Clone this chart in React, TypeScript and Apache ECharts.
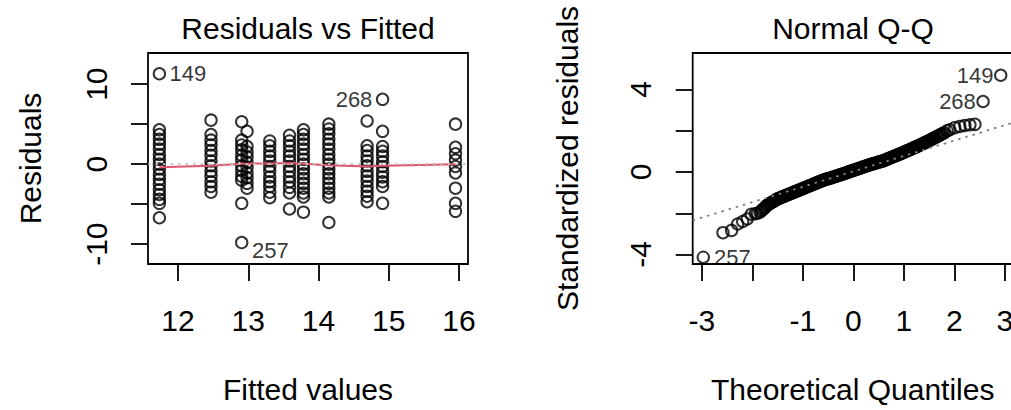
import React, { useEffect, useRef } from "react";
import * as echarts from "echarts";

const FONT = '"Liberation Sans", Arial, Helvetica, sans-serif';

// ---------- Residuals vs Fitted ----------
const fittedLevels = [11.735, 12.47, 12.907, 12.983, 13.306, 13.587, 13.786, 14.147, 14.692, 14.912, 15.95];
const residualsByLevel = [
  [4.3, 3.7, 3.1, 2.5, 1.9, 1.2, 0.6, 0.0, -0.6, -1.3, -1.9, -2.5, -3.2, -3.8, -4.4, -4.9, -6.7],
  [5.5, 3.7, 3.0, 2.4, 1.7, 1.1, 0.4, -0.2, -0.9, -1.5, -2.2, -2.8, -3.5],
  [5.3, 3.0, 2.4, 1.8, 1.1, 0.5, -0.2, -0.8, -1.5, -2.0, -4.9],
  [4.1, 2.2, 1.5, 0.9, 0.2, -0.4, -1.1, -1.7, -2.4, -3.0],
  [2.9, 2.3, 1.6, 1.0, 0.4, -0.3, -0.9, -1.6, -2.2, -2.8, -3.5, -4.2],
  [3.6, 2.9, 2.3, 1.6, 1.0, 0.4, -0.3, -0.9, -1.6, -2.2, -2.9, -3.6, -5.6],
  [4.3, 3.7, 3.1, 2.5, 1.9, 1.2, 0.6, 0.0, -0.6, -1.2, -1.8, -2.4, -3.0, -3.6, -4.1, -6.0],
  [5.0, 4.4, 3.8, 3.1, 2.5, 1.9, 1.2, 0.6, 0.0, -0.6, -1.2, -1.8, -2.4, -3.0, -3.6, -4.1, -7.3],
  [5.4, 2.3, 1.7, 1.0, 0.4, -0.2, -0.9, -1.5, -2.1, -2.8, -3.4, -4.0, -4.7],
  [4.1, 2.2, 1.6, 1.0, 0.3, -0.3, -1.0, -1.6, -2.2, -2.8, -4.9],
  [5.0, 2.1, 1.3, 0.5, -0.3, -1.1, -3.0, -4.9, -5.9],
];
const outlierIds = ["149", "257", "268"];
const outlierFitted = [11.735, 12.907, 14.912];
const outlierResid = [11.3, -9.8, 8.1];
const outlierSide = ["right", "right", "left"];
const outlierDy = [0, 8, 0];
const lowessResid = [-0.38, -0.2, 0.04, 0.06, 0.08, 0.13, 0.04, -0.13, -0.3, -0.2, 0.0];

const leftX = { min: 11.573, max: 16.128 };
const leftY = { min: -12.48, max: 13.89 };
const leftXTicks = [12, 13, 14, 15, 16];
const leftYTicks = [-10, -5, 0, 5, 10];
const leftYLabels = [-10, 0, 10];

// ---------- Normal Q-Q ----------
const qqTailLowQ = [-2.58, -2.41, -2.29, -2.19, -2.1, -2.02, -1.94, -1.9];
const qqTailLowS = [-2.94, -2.83, -2.52, -2.4, -2.28, -2.05, -2.02, -2.0];
const qqBandQ = [
  -1.85, -1.825, -1.8, -1.775, -1.75, -1.725, -1.7, -1.675, -1.65, -1.625,
  -1.6, -1.575, -1.55, -1.525, -1.5, -1.475, -1.45, -1.425, -1.4, -1.375,
  -1.35, -1.325, -1.3, -1.275, -1.25, -1.225, -1.2, -1.175, -1.15, -1.125,
  -1.1, -1.075, -1.05, -1.025, -1.0, -0.975, -0.95, -0.925, -0.9, -0.875,
  -0.85, -0.825, -0.8, -0.775, -0.75, -0.725, -0.7, -0.675, -0.65, -0.625,
  -0.6, -0.575, -0.55, -0.525, -0.5, -0.475, -0.45, -0.425, -0.4, -0.375,
  -0.35, -0.325, -0.3, -0.275, -0.25, -0.225, -0.2, -0.175, -0.15, -0.125,
  -0.1, -0.075, -0.05, -0.025, 0.0, 0.025, 0.05, 0.075, 0.1, 0.125,
  0.15, 0.175, 0.2, 0.225, 0.25, 0.275, 0.3, 0.325, 0.35, 0.375,
  0.4, 0.425, 0.45, 0.475, 0.5, 0.525, 0.55, 0.575, 0.6, 0.625,
  0.65, 0.675, 0.7, 0.725, 0.75, 0.775, 0.8, 0.825, 0.85, 0.875,
  0.9, 0.925, 0.95, 0.975, 1.0, 1.025, 1.05, 1.075, 1.1, 1.125,
  1.15, 1.175, 1.2, 1.225, 1.25, 1.275, 1.3, 1.325, 1.35, 1.375,
  1.4, 1.425, 1.45, 1.475, 1.5, 1.525, 1.55, 1.575, 1.6, 1.625,
  1.65, 1.675, 1.7, 1.725, 1.75, 1.775, 1.8,
];
const qqBandS = [
  -1.95, -1.89, -1.83, -1.78, -1.72, -1.66, -1.6, -1.56, -1.53, -1.49,
  -1.45, -1.42, -1.38, -1.34, -1.3, -1.28, -1.25, -1.23, -1.2, -1.18,
  -1.15, -1.13, -1.1, -1.08, -1.05, -1.03, -1.0, -0.98, -0.95, -0.93,
  -0.9, -0.88, -0.85, -0.83, -0.8, -0.78, -0.75, -0.73, -0.7, -0.68,
  -0.65, -0.63, -0.6, -0.58, -0.55, -0.53, -0.5, -0.48, -0.45, -0.43,
  -0.4, -0.38, -0.36, -0.34, -0.32, -0.31, -0.29, -0.27, -0.25, -0.23,
  -0.21, -0.19, -0.17, -0.15, -0.13, -0.11, -0.09, -0.07, -0.05, -0.03,
  0.0, 0.02, 0.04, 0.06, 0.08, 0.1, 0.12, 0.14, 0.16, 0.18,
  0.2, 0.23, 0.25, 0.27, 0.29, 0.31, 0.33, 0.35, 0.37, 0.39,
  0.4, 0.42, 0.44, 0.46, 0.48, 0.5, 0.51, 0.53, 0.55, 0.58,
  0.6, 0.63, 0.65, 0.68, 0.7, 0.73, 0.75, 0.78, 0.8, 0.83,
  0.85, 0.88, 0.9, 0.93, 0.96, 0.99, 1.01, 1.04, 1.06, 1.09,
  1.12, 1.15, 1.17, 1.2, 1.23, 1.26, 1.28, 1.31, 1.34, 1.37,
  1.4, 1.43, 1.46, 1.49, 1.52, 1.55, 1.58, 1.62, 1.65, 1.68,
  1.71, 1.74, 1.77, 1.81, 1.84, 1.87, 1.9,
];
const qqTailHighQ = [1.86, 1.91, 2.01, 2.11, 2.21, 2.31, 2.41];
const qqTailHighS = [2.0, 2.05, 2.15, 2.21, 2.26, 2.29, 2.31];
const qqOutlierIds = ["257", "268", "149"];
const qqOutlierQ = [-2.97, 2.57, 2.92];
const qqOutlierS = [-4.13, 3.42, 4.69];
const qqOutlierSide = ["right", "left", "left"];
const qqOutlierDist = [4, 0.5, 0.5];
const qqLineIntercept = 0.03;
const qqLineSlope = 0.747;

const rightX = { min: -3.18, max: 3.157 };
const rightY = { min: -4.46, max: 5.77 };
const rightXTicks = [-3, -2, -1, 0, 1, 2, 3];
const rightXLabels = [-3, -1, 0, 1, 2, 3];
const rightYTicks = [-4, -2, 0, 2, 4];
const rightYLabels = [-4, 0, 4];

const FS = 30;
const textBase = { color: "#000", fontFamily: FONT, fontSize: FS, lineHeight: FS };

function xAxisCfg(grid: number, range: any, ticks: number[], labels: number[], name: string) {
  return {
    type: "value",
    gridIndex: grid,
    min: range.min,
    max: range.max,
    axisLine: { show: false, onZero: false },
    splitLine: { show: false },
    axisTick: { show: true, inside: false, length: 17, customValues: ticks, lineStyle: { color: "#000", width: 1.8 } },
    axisLabel: { ...textBase, customValues: labels, margin: 41.5, hideOverlap: false },
    name,
    nameLocation: "middle",
    nameGap: 110,
    nameTextStyle: { ...textBase },
  };
}
function yAxisCfg(grid: number, range: any, ticks: number[], labels: number[], name: string, nameGap: number) {
  return {
    type: "value",
    gridIndex: grid,
    min: range.min,
    max: range.max,
    axisLine: { show: false, onZero: false },
    splitLine: { show: false },
    axisTick: { show: true, inside: false, length: 17, customValues: ticks, lineStyle: { color: "#000", width: 1.8 } },
    axisLabel: { ...textBase, customValues: labels, rotate: 90, margin: 37, hideOverlap: false },
    name,
    nameLocation: "middle",
    nameGap,
    nameTextStyle: { ...textBase },
  };
}

const circleStyle = { color: "rgba(0,0,0,0)", borderColor: "#000", borderWidth: 2 };
const SYM = 11.4;
const idLabel = { color: "#000", fontFamily: FONT, fontSize: 22 };

function buildOption() {
  const leftPoints: any[] = [];
  fittedLevels.forEach((f, i) => residualsByLevel[i].forEach((r) => leftPoints.push([f, r])));
  outlierIds.forEach((id, i) =>
    leftPoints.push({
      value: [outlierFitted[i], outlierResid[i]],
      label: { show: true, formatter: id, position: outlierSide[i], distance: 3.5, offset: [0, outlierDy[i]], ...idLabel },
    })
  );
  const qqPoints: any[] = [
    ...qqTailLowQ.map((q, i) => [q, qqTailLowS[i]]),
    ...qqBandQ.map((q, i) => [q, qqBandS[i]]),
    ...qqTailHighQ.map((q, i) => [q, qqTailHighS[i]]),
  ];
  qqOutlierIds.forEach((id, i) =>
    qqPoints.push({
      value: [qqOutlierQ[i], qqOutlierS[i]],
      label: { show: true, formatter: id, position: qqOutlierSide[i], distance: qqOutlierDist[i], ...idLabel },
    })
  );

  return {
    animation: false,
    backgroundColor: "#fff",
    grid: [
      { left: 148, top: 53, width: 320, height: 211, show: true, borderColor: "#000", borderWidth: 1.8, containLabel: false, outerBoundsMode: "none" },
      { left: 692.7, top: 53, width: 320, height: 211, show: true, borderColor: "#000", borderWidth: 1.8, containLabel: false, outerBoundsMode: "none" },
    ],
    xAxis: [
      xAxisCfg(0, leftX, leftXTicks, leftXTicks, "Fitted values"),
      xAxisCfg(1, rightX, rightXTicks, rightXLabels, "Theoretical Quantiles"),
    ],
    yAxis: [
      yAxisCfg(0, leftY, leftYTicks, leftYLabels, "Residuals", 103),
      yAxisCfg(1, rightY, rightYTicks, rightYLabels, "Standardized residuals", 110),
    ],
    graphic: [
      { type: "text", x: 308, y: 28, style: { text: "Residuals vs Fitted", fill: "#000", font: `${FS}px ${FONT}`, align: "center", verticalAlign: "middle" } },
      { type: "text", x: 853, y: 28, style: { text: "Normal Q-Q", fill: "#000", font: `${FS}px ${FONT}`, align: "center", verticalAlign: "middle" } },
    ],
    series: [
      {
        type: "scatter",
        xAxisIndex: 0,
        yAxisIndex: 0,
        symbol: "circle",
        symbolSize: SYM,
        itemStyle: circleStyle,
        data: leftPoints,
        z: 2,
      },
      {
        type: "line",
        xAxisIndex: 0,
        yAxisIndex: 0,
        showSymbol: false,
        symbol: "none",
        data: fittedLevels.map((f, i) => [f, lowessResid[i]]),
        lineStyle: { color: "#DF536B", width: 2 },
        z: 3,
      },
      {
        type: "line",
        xAxisIndex: 0,
        yAxisIndex: 0,
        showSymbol: false,
        symbol: "none",
        data: [[leftX.min, 0], [leftX.max, 0]],
        lineStyle: { color: "#BEBEBE", width: 1.8, type: [2.5, 5] },
        z: 5,
      },
      {
        type: "scatter",
        xAxisIndex: 1,
        yAxisIndex: 1,
        symbol: "circle",
        symbolSize: SYM,
        itemStyle: circleStyle,
        data: qqPoints,
        z: 2,
      },
      {
        type: "line",
        xAxisIndex: 1,
        yAxisIndex: 1,
        showSymbol: false,
        symbol: "none",
        data: [
          [rightX.min, qqLineIntercept + qqLineSlope * rightX.min],
          [rightX.max, qqLineIntercept + qqLineSlope * rightX.max],
        ],
        lineStyle: { color: "#7F7F7F", width: 1.8, type: [2.5, 5] },
        z: 5,
      },
    ],
  };
}

export default function App() {
  const ref = useRef<HTMLDivElement>(null);
  useEffect(() => {
    const chart = echarts.init(ref.current as HTMLDivElement, null, { renderer: "svg" });
    chart.setOption(buildOption() as any);
    return () => chart.dispose();
  }, []);
  return (
    <div
      ref={ref}
      style={{ position: "fixed", left: 0, top: 0, width: 1011, height: 410, background: "#fff" }}
    />
  );
}
